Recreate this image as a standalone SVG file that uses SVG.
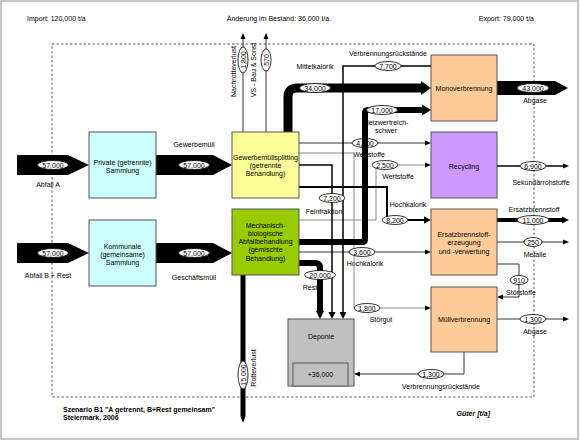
<svg xmlns="http://www.w3.org/2000/svg" width="580" height="442" viewBox="0 0 580 442">
<defs>
<style>
text{font-family:"Liberation Sans",Arial,sans-serif;font-size:7px;fill:#000}
.c{text-anchor:middle}
.box{stroke:#555;stroke-width:1}
.ln{fill:none;stroke:#000}
.gr{fill:none;stroke:#8c8c8c;stroke-width:1}
.ov{fill:#fff;stroke:#000;stroke-width:0.8}
.b{font-weight:bold}
</style>
<marker id="a1" markerUnits="userSpaceOnUse" markerWidth="6" markerHeight="6" viewBox="0 -3 6 6" refX="0" refY="0" orient="auto"><path d="M0,-2.5L6,0L0,2.5z"/></marker>
<marker id="a2" markerUnits="userSpaceOnUse" markerWidth="7" markerHeight="8" viewBox="0 -4 7 8" refX="0" refY="0" orient="auto"><path d="M0,-3.5L7,0L0,3.5z"/></marker>
<marker id="a3" markerUnits="userSpaceOnUse" markerWidth="9" markerHeight="12" viewBox="0 -6 9 12" refX="0" refY="0" orient="auto"><path d="M0,-5.5L9,0L0,5.5z"/></marker>
<marker id="a4" markerUnits="userSpaceOnUse" markerWidth="10" markerHeight="16" viewBox="0 -8 10 16" refX="0" refY="0" orient="auto"><path d="M0,-7L10,0L0,7z"/></marker>
<marker id="p5" markerUnits="userSpaceOnUse" markerWidth="7" markerHeight="8" viewBox="0 -4 7 8" refX="0" refY="0" orient="auto"><path d="M0,-2.5L7,0L0,2.5z"/></marker>
<marker id="p6" markerUnits="userSpaceOnUse" markerWidth="8" markerHeight="10" viewBox="0 -5 8 10" refX="0" refY="0" orient="auto"><path d="M0,-4L8,0L0,4z"/></marker>
</defs>
<rect x="0" y="0" width="580" height="442" fill="#fff"/>
<rect x="1" y="1" width="577" height="438" fill="#fff" stroke="#b4b4b4" stroke-width="1.5"/>

<g id="header">
<text x="27" y="21">Import: 120,000 t/a</text>
<text class="c" x="278" y="21">Änderung im Bestand: 36,000 t/a</text>
<text x="534" y="21" text-anchor="end">Export: 79,000 t/a</text>
</g>

<g id="edge-labels">
<text class="c" x="48" y="186.5">Abfall A</text>
<text class="c" x="48" y="277.5">Abfall B + Rest</text>
<text class="c" x="194" y="146.5">Gewerbemüll</text>
<text class="c" x="194" y="279.5">Geschäftsmüll</text>
<text class="c" transform="translate(235.5,71.5) rotate(-90)">Nachrotteverlust</text>
<text class="c" transform="translate(255.5,70) rotate(-90)">VS - Bau &amp; Sonst</text>
<text class="c" x="315" y="68.5">Mittelkalorik</text>
<text class="c" x="388" y="55.5">Verbrennungsrückstände</text>
<text class="c" x="386" y="124.5">Heizwertreich-</text>
<text class="c" x="386" y="133">schwer</text>
<text class="c" x="369" y="156.5">Wertstoffe</text>
<text class="c" x="398" y="178.5">Wertstoffe</text>
<text class="c" x="324" y="213.5">Feinfraktion</text>
<text class="c" x="408" y="206.5">Hochkalorik</text>
<text class="c" x="365" y="265.5">Hochkalorik</text>
<text class="c" x="310" y="289.5">Rest</text>
<text class="c" x="381" y="322">Störgut</text>
<text class="c" transform="translate(256,368) rotate(-90)">Rotteverlust</text>
<text class="c" x="535" y="102.5">Abgase</text>
<text class="c" x="541" y="184.5">Sekundärrohstoffe</text>
<text class="c" x="534" y="211.5">Ersatzbrennstoff</text>
<text class="c" x="535" y="256.5">Metalle</text>
<text class="c" x="521" y="294.5">Störstoffe</text>
<text class="c" x="535" y="333.5">Abgase</text>
<text class="c" x="441" y="389">Verbrennungsrückstände</text>
</g>

<rect id="boundary" x="52" y="44" width="482" height="353" fill="none" stroke="#333" stroke-width="0.8" stroke-dasharray="2.5,2"/>

<g id="connectors">
<polygon points="17,155 68,155 89,165 68,175 17,175"/>
<polygon points="17,243 68,243 89,253 68,263 17,263"/>
<polygon points="156,155 213,155 232,165 213,175 156,175"/>
<polygon points="156,243 213,243 232,253 213,263 156,263"/>
<path class="ln" stroke-width="0.8" d="M243,132V39" marker-end="url(#a1)"/>
<path class="ln" stroke-width="0.8" d="M266,132V39" marker-end="url(#a1)"/>
<path class="gr" d="M299,153H354V308H425" marker-end="url(#a1)"/>
<path class="gr" d="M299,220H376V165H425" marker-end="url(#a1)"/>
<path class="ln" stroke-width="1.5" d="M431,66H343V312" marker-end="url(#a2)"/>
<path class="ln" stroke-width="1.5" d="M299,165H332V312" marker-end="url(#a2)"/>
<path class="ln" stroke-width="2" d="M299,187H387V220H424" marker-end="url(#a2)"/>
<path class="ln" stroke-width="0.8" d="M299,143H425" marker-end="url(#a1)"/>
<path class="ln" stroke-width="0.8" d="M299,252H425" marker-end="url(#a1)"/>
<g class="lbl"><ellipse class="ov" cx="365" cy="143" rx="13" ry="4.5"/><text class="c" x="365" y="145.5">4,400</text></g>
<path class="ln" stroke-width="6" d="M299,242H362Q365,242 365,239V113Q365,110 368,110H422" marker-end="url(#a3)"/>
<path class="ln" stroke-width="9" d="M288,132V97Q288,88 297,88H421" marker-end="url(#a4)"/>
<path class="ln" stroke-width="6" d="M299,263H315Q320,263 320,268V311" marker-end="url(#p6)"/>
<path class="ln" stroke-width="5" d="M243,275V416" marker-end="url(#p5)"/>
<polygon points="497,81 555,81 568,88 555,95 497,95"/>
<path class="ln" stroke-width="1.5" d="M497,166H563" marker-end="url(#a1)"/>
<path class="ln" stroke-width="4" d="M497,220H562" marker-end="url(#a2)"/>
<path class="ln" stroke-width="0.8" d="M497,242H563" marker-end="url(#a1)"/>
<path class="ln" stroke-width="0.8" d="M497,264H519V297H503" marker-end="url(#a1)"/>
<path class="ln" stroke-width="0.8" d="M497,319H563" marker-end="url(#a1)"/>
<path class="ln" stroke-width="0.8" d="M464,352V374H360" marker-end="url(#a1)"/>

<g class="lbl"><ellipse class="ov" cx="53" cy="165" rx="15.5" ry="4.5"/><text class="c" x="53" y="167.5">57,000</text></g>
<g class="lbl"><ellipse class="ov" cx="53" cy="253" rx="15.5" ry="4.5"/><text class="c" x="53" y="255.5">57,000</text></g>
<g class="lbl"><ellipse class="ov" cx="194" cy="165" rx="15.5" ry="4.5"/><text class="c" x="194" y="167.5">57,000</text></g>
<g class="lbl"><ellipse class="ov" cx="194" cy="253" rx="15.5" ry="4.5"/><text class="c" x="194" y="255.5">57,000</text></g>
<g class="lbl"><ellipse class="ov" cx="243" cy="60" rx="5" ry="13"/><text class="c" transform="translate(245.5,60) rotate(-90)">1,800</text></g>
<g class="lbl"><ellipse class="ov" cx="266" cy="60" rx="5" ry="11"/><text class="c" transform="translate(268.5,60) rotate(-90)">570</text></g>
<g class="lbl"><ellipse class="ov" cx="315" cy="88" rx="15.5" ry="4.5"/><text class="c" x="315" y="90.5">34,000</text></g>
<g class="lbl"><ellipse class="ov" cx="388" cy="66" rx="13" ry="4.5"/><text class="c" x="388" y="68.5">7,700</text></g>
<g class="lbl"><ellipse class="ov" cx="382" cy="110" rx="15.5" ry="4.5"/><text class="c" x="382" y="112.5">17,000</text></g>
<g class="lbl"><ellipse class="ov" cx="385" cy="165" rx="13" ry="4.5"/><text class="c" x="385" y="167.5">2,500</text></g>
<g class="lbl"><ellipse class="ov" cx="332" cy="198" rx="13" ry="4.5"/><text class="c" x="332" y="200.5">7,200</text></g>
<g class="lbl"><ellipse class="ov" cx="395" cy="220" rx="13" ry="4.5"/><text class="c" x="395" y="222.5">8,200</text></g>
<g class="lbl"><ellipse class="ov" cx="362" cy="252" rx="13" ry="4.5"/><text class="c" x="362" y="254.5">3,600</text></g>
<g class="lbl"><ellipse class="ov" cx="320" cy="275" rx="15.5" ry="4.5"/><text class="c" x="320" y="277.5">20,000</text></g>
<g class="lbl"><ellipse class="ov" cx="367" cy="308" rx="13" ry="4.5"/><text class="c" x="367" y="310.5">1,800</text></g>
<g class="lbl"><ellipse class="ov" cx="243" cy="375" rx="5" ry="14"/><text class="c" transform="translate(245.5,375) rotate(-90)">15,000</text></g>
<g class="lbl"><ellipse class="ov" cx="533" cy="88" rx="16" ry="4.5"/><text class="c" x="533" y="90.5">43,000</text></g>
<g class="lbl"><ellipse class="ov" cx="533" cy="166" rx="13" ry="4.5"/><text class="c" x="533" y="168.5">6,900</text></g>
<g class="lbl"><ellipse class="ov" cx="533" cy="220" rx="16" ry="4.5"/><text class="c" x="533" y="222.5">11,000</text></g>
<g class="lbl"><ellipse class="ov" cx="533" cy="242" rx="9" ry="4.5"/><text class="c" x="533" y="244.5">250</text></g>
<g class="lbl"><ellipse class="ov" cx="519" cy="280" rx="9" ry="4.5"/><text class="c" x="519" y="282.5">910</text></g>
<g class="lbl"><ellipse class="ov" cx="533" cy="319" rx="13" ry="4.5"/><text class="c" x="533" y="321.5">1,300</text></g>
<g class="lbl"><ellipse class="ov" cx="431" cy="374" rx="13" ry="4.5"/><text class="c" x="431" y="376.5">1,300</text></g>
</g>

<g id="private">
<rect class="box" x="89" y="132" width="67" height="66" fill="#ccffff"/>
<text class="c" x="122.5" y="164.5">Private (getrennte)</text>
<text class="c" x="122.5" y="172.5">Sammlung</text>
</g>
<g id="kommunale">
<rect class="box" x="89" y="220" width="67" height="66" fill="#ccffff"/>
<text class="c" x="122.5" y="248.5">Kommunale</text>
<text class="c" x="122.5" y="256.5">(gemeinsame)</text>
<text class="c" x="122.5" y="264.5">Sammlung</text>
</g>
<g id="gewerbemuellsplitting">
<rect class="box" x="232" y="132" width="67" height="66" fill="#ffff99"/>
<text class="c" x="265.5" y="159.5">Gewerbemüllsplitting</text>
<text class="c" x="265.5" y="168">(getrennte</text>
<text class="c" x="265.5" y="176">Behandlung)</text>
</g>
<g id="mba">
<rect class="box" x="232" y="209" width="67" height="66" fill="#99cc00"/>
<text class="c" x="265.5" y="227.5">Mechanisch-</text>
<text class="c" x="265.5" y="235.5">biologische</text>
<text class="c" x="265.5" y="244">Abfallbehandlung</text>
<text class="c" x="265.5" y="252">(gemischte</text>
<text class="c" x="265.5" y="260.5">Behandlung)</text>
</g>
<g id="monoverbrennung">
<rect class="box" x="431" y="55" width="66" height="66" fill="#ffcc99"/>
<text class="c" x="464" y="90.5">Monoverbrennung</text>
</g>
<g id="recycling">
<rect class="box" x="431" y="132" width="66" height="66" fill="#cc99ff"/>
<text class="c" x="464" y="168.5">Recycling</text>
</g>
<g id="ersatzbrennstoff">
<rect class="box" x="431" y="209" width="66" height="66" fill="#ffcc99"/>
<text class="c" x="464" y="236.5">Ersatzbrennstoff-</text>
<text class="c" x="464" y="245">erzeugung</text>
<text class="c" x="464" y="253.5">und -verwertung</text>
</g>
<g id="muellverbrennung">
<rect class="box" x="431" y="287" width="66" height="65" fill="#ffcc99"/>
<text class="c" x="464" y="321.5">Müllverbrennung</text>
</g>
<g id="deponie">
<rect class="box" x="288" y="319" width="66" height="67" fill="#c0c0c0"/>
<text class="c" x="321" y="338.5">Deponie</text>
<rect class="box" x="293" y="363" width="55" height="23" fill="#c0c0c0"/>
<text class="c" x="320.5" y="376.5">+36,000</text>
</g>

<g id="footer">
<text class="b" x="63" y="411.5">Szenario B1 "A getrennt, B+Rest gemeinsam"</text>
<text class="b" x="63" y="419.5">Steiermark, 2006</text>
<text class="b" x="490" y="415.5" text-anchor="end" font-style="italic">Güter [t/a]</text>
</g>
</svg>
